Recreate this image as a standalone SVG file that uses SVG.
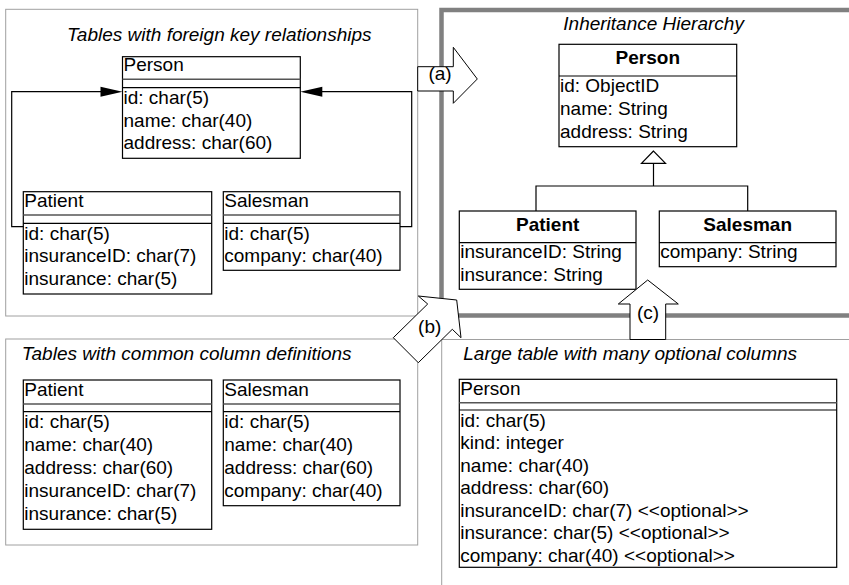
<svg xmlns="http://www.w3.org/2000/svg" width="849" height="585" viewBox="0 0 849 585">
<style>
.frame{fill:none;stroke:#a0a0a0;stroke-width:1}
.thick{fill:none;stroke:#808080;stroke-width:4.5}
.box{fill:#fff;stroke:#000;stroke-width:1.2}
.ln{stroke:#000;stroke-width:1.2;fill:none}
.sep1{stroke:#555;stroke-width:1.6}
.big{fill:#fff;stroke:#000;stroke-width:1}
text{font-family:"Liberation Sans",Arial,Helvetica,sans-serif;font-size:19px;fill:#000}
.ttl{font-style:italic}
.b{font-weight:bold}
.c{text-anchor:middle}
.lbl{font-size:19px;text-anchor:middle}
</style>
<rect width="849" height="585" fill="#fff"/>

<g id="frames">
<rect class="frame" x="5.7" y="9.3" width="412" height="306.7"/>
<rect class="frame" x="5.7" y="339" width="412" height="206"/>
<rect class="frame" x="441.7" y="339.5" width="420" height="260"/>
<rect class="thick" x="441.5" y="10" width="420" height="305.5"/>
<text class="ttl" x="67" y="41">Tables with foreign key relationships</text>
<text class="ttl" x="563.3" y="29.5">Inheritance Hierarchy</text>
<text class="ttl" x="21.7" y="359.5">Tables with common column definitions</text>
<text class="ttl" x="463.3" y="360">Large table with many optional columns</text>
</g>

<g id="fk-person">
<rect class="box" x="122.5" y="56.7" width="177.8" height="101.6"/>
<line class="sep1" x1="122.5" y1="79.3" x2="300.3" y2="79.3"/>
<line class="ln" x1="122.5" y1="87.7" x2="300.3" y2="87.7"/>
<text x="123.5" y="71">Person</text>
<text x="123.5" y="104">id: char(5)</text>
<text x="123.5" y="126.5">name: char(40)</text>
<text x="123.5" y="149">address: char(60)</text>
</g>

<g id="fk-patient">
<rect class="box" x="23.3" y="191.7" width="188.4" height="102.3"/>
<line class="sep1" x1="23.3" y1="215" x2="211.7" y2="215"/>
<line class="ln" x1="23.3" y1="223.3" x2="211.7" y2="223.3"/>
<text x="24.3" y="206.5">Patient</text>
<text x="24.3" y="239.6">id: char(5)</text>
<text x="24.3" y="262.1">insuranceID: char(7)</text>
<text x="24.3" y="284.6">insurance: char(5)</text>
</g>

<g id="fk-salesman">
<rect class="box" x="223.3" y="191.7" width="176.7" height="78.6"/>
<line class="sep1" x1="223.3" y1="215" x2="400" y2="215"/>
<line class="ln" x1="223.3" y1="223.3" x2="400" y2="223.3"/>
<text x="224.3" y="206.5">Salesman</text>
<text x="224.3" y="239.6">id: char(5)</text>
<text x="224.3" y="262.1">company: char(40)</text>
</g>

<g id="inh-person">
<rect class="box" x="559" y="44.3" width="177.7" height="102.4"/>
<line class="ln" x1="559" y1="76" x2="736.7" y2="76"/>
<text class="b c" x="647.8" y="63.5">Person</text>
<text x="560" y="91.5">id: ObjectID</text>
<text x="560" y="114.5">name: String</text>
<text x="560" y="137.5">address: String</text>
</g>

<g id="inh-patient">
<rect class="box" x="459.3" y="211" width="176.7" height="78.3"/>
<line class="ln" x1="459.3" y1="242.7" x2="636" y2="242.7"/>
<text class="b c" x="547.7" y="231">Patient</text>
<text x="460.3" y="258">insuranceID: String</text>
<text x="460.3" y="281">insurance: String</text>
</g>

<g id="inh-salesman">
<rect class="box" x="659.3" y="211" width="176.7" height="55.7"/>
<line class="ln" x1="659.3" y1="242.7" x2="836" y2="242.7"/>
<text class="b c" x="747.7" y="231">Salesman</text>
<text x="660.3" y="258">company: String</text>
</g>

<g id="cc-patient">
<rect class="box" x="23.3" y="380" width="188.4" height="149.3"/>
<line class="sep1" x1="23.3" y1="404" x2="211.7" y2="404"/>
<line class="ln" x1="23.3" y1="411.7" x2="211.7" y2="411.7"/>
<text x="24.3" y="395.5">Patient</text>
<text x="24.3" y="428">id: char(5)</text>
<text x="24.3" y="451">name: char(40)</text>
<text x="24.3" y="474">address: char(60)</text>
<text x="24.3" y="497">insuranceID: char(7)</text>
<text x="24.3" y="520">insurance: char(5)</text>
</g>

<g id="cc-salesman">
<rect class="box" x="223.3" y="380" width="176.7" height="125.7"/>
<line class="sep1" x1="223.3" y1="404" x2="400" y2="404"/>
<line class="ln" x1="223.3" y1="411.7" x2="400" y2="411.7"/>
<text x="224.3" y="395.5">Salesman</text>
<text x="224.3" y="428">id: char(5)</text>
<text x="224.3" y="451">name: char(40)</text>
<text x="224.3" y="474">address: char(60)</text>
<text x="224.3" y="497">company: char(40)</text>
</g>

<g id="large-person">
<rect class="box" x="459.3" y="379.3" width="377.4" height="188"/>
<line class="sep1" x1="459.3" y1="402.7" x2="836.7" y2="402.7"/>
<line class="ln" x1="459.3" y1="410" x2="836.7" y2="410"/>
<text x="460.3" y="395">Person</text>
<text x="460.3" y="426.5">id: char(5)</text>
<text x="460.3" y="449">kind: integer</text>
<text x="460.3" y="471.5">name: char(40)</text>
<text x="460.3" y="494">address: char(60)</text>
<text x="460.3" y="516.5">insuranceID: char(7) &lt;&lt;optional&gt;&gt;</text>
<text x="460.3" y="539">insurance: char(5) &lt;&lt;optional&gt;&gt;</text>
<text x="460.3" y="561.5">company: char(40) &lt;&lt;optional&gt;&gt;</text>
</g>

<g id="connectors">
<path class="ln" d="M23.3 226.7 H11.7 V91.7 H101"/>
<polygon points="122.5,91.7 100.5,86.7 100.5,96.7" fill="#000"/>
<path class="ln" d="M400 226.7 H411.7 V91.7 H322"/>
<polygon points="300.3,91.7 322.3,86.7 322.3,96.7" fill="#000"/>
<path class="ln" d="M653.5 163.3 V186 M536 211 V186 H747.7 V211"/>
<polygon class="big" points="653.5,151 641.5,163.3 665.5,163.3" style="stroke-width:1.2"/>
</g>

<g id="arrow-a">
<polygon class="big" points="417.7,66.7 453.3,66.7 453.3,47.3 477.3,79 453.3,103.3 453.3,91 417.7,91"/>
<text class="lbl" x="440" y="80">(a)</text>
</g>
<g id="arrow-b">
<polygon class="big" points="418.3,296 427.7,304 393.3,337.7 418.3,362.7 452.3,329.3 461,337.7 456.7,300"/>
<text class="lbl" x="429.7" y="332.5">(b)</text>
</g>
<g id="arrow-c">
<polygon class="big" points="647.7,280 678.3,304 665.7,304 665.7,339.5 630,339.5 630,304 618.3,304"/>
<text class="lbl" x="648" y="318.5">(c)</text>
</g>
</svg>
